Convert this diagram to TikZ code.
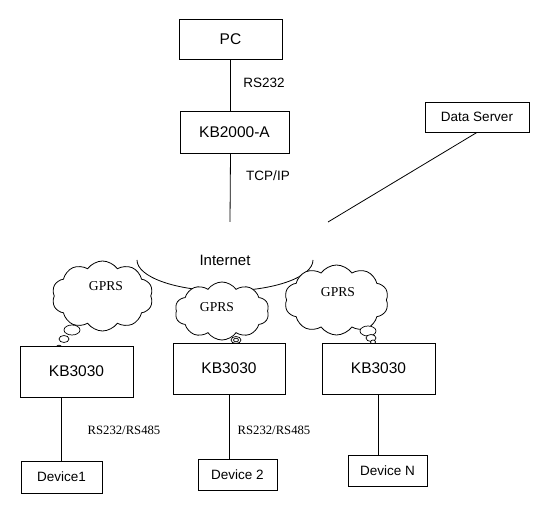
\documentclass[tikz,border=0pt]{standalone}
\usepackage{fontspec}
\setmainfont{Liberation Serif}
\newfontfamily\arialfont{Liberation Sans}
\usepackage{tikz}
\usetikzlibrary{shapes.symbols}
\tikzset{
    plain-box/.style = {draw=black, fill=white, line width=0.8pt, rectangle, inner sep=0pt, font=\arialfont\fontsize{15.5}{18}\selectfont},
    small-box/.style = {plain-box, font=\arialfont\fontsize{13.5}{16}\selectfont},
    link-text/.style = {font=\arialfont\fontsize{13.5}{16}\selectfont},
    bus-text/.style = {font=\fontsize{12.7}{15}\selectfont},
    gprs-cloud/.style = {draw=black, fill=white, line width=0.8pt, cloud, cloud puffs=10, cloud puff arc=110, cloud ignores aspect, inner sep=0pt},
    gprs-text/.style = {font=\fontsize{13.6}{16}\selectfont},
    bubble/.style = {draw=black, fill=white, line width=0.7pt},
}

\begin{document}
\begin{tikzpicture}[x=1pt, y=1pt]
\useasboundingbox (0,0) rectangle (541,506);
% top: PC and gateway
\node [plain-box, minimum width=103, minimum height=40] (pc) at (230.5,467) {PC};
\node [plain-box, minimum width=109, minimum height=42] (kb2000) at (234.5,374) {KB2000-A};
\node [small-box, minimum width=104, minimum height=30] (server) at (477,389) {Data Server};
\draw [line width=0.8pt] (pc.south) -- (pc.south |- kb2000.north);
\node [link-text] (rs232) at (264,423) {RS232};
\coordinate (net-top) at (230,284);
\coordinate (net-right) at (328,284);
\draw [line width=0.8pt] (kb2000.south -| pc.south) -- (net-top);
\node [link-text] (tcpip) at (268,330) {TCP/IP};
\draw [line width=0.8pt] (server.south) -- (net-right);
% internet
\coordinate (net-left) at (137,246);
\draw [line width=0.8pt] (net-left) arc[start angle=180, end angle=360, x radius=88, y radius=31];
\node [font=\arialfont\fontsize{15}{18}\selectfont] (internet) at (225,246) {Internet};
% GPRS clouds
\node [gprs-cloud, minimum width=101, minimum height=70] (cloud1) at (102.5,210) {};
\node [gprs-text] (gprs1) at (106,220) {GPRS};
\node [gprs-cloud, minimum width=94, minimum height=58] (cloud2) at (222,195) {};
\node [gprs-text] (gprs2) at (217,199) {GPRS};
\node [gprs-cloud, minimum width=104, minimum height=70] (cloud3) at (336.5,206) {};
\node [gprs-text] (gprs3) at (338,214) {GPRS};
% thought bubbles
\draw [bubble] (72,176) ellipse [x radius=8, y radius=5];
\draw [bubble] (64,167) ellipse [x radius=5, y radius=3.5];
\draw [bubble] (59,159) ellipse [x radius=2.5, y radius=1.8];
\draw [bubble] (236,166) ellipse [x radius=5, y radius=3.5];
\draw [bubble] (236,166) ellipse [x radius=2.5, y radius=1.8];
\draw [bubble] (368,175) ellipse [x radius=8, y radius=5];
\draw [bubble] (371,168) ellipse [x radius=5, y radius=3.5];
\draw [bubble] (373,164) ellipse [x radius=2.5, y radius=2];
% terminals and devices
\node [plain-box, minimum width=113, minimum height=51] (kb1) at (76.5,134.5) {KB3030};
\node [plain-box, minimum width=112, minimum height=51] (kb2) at (229,137.5) {KB3030};
\node [plain-box, minimum width=113, minimum height=51] (kb3) at (378.5,137.5) {KB3030};
\node [small-box, minimum width=81, minimum height=32] (dev1) at (61.5,29) {Device1};
\node [small-box, minimum width=79, minimum height=31] (dev2) at (237.5,31.5) {Device 2};
\node [small-box, minimum width=79, minimum height=31] (devN) at (387.5,35.5) {Device N};
\draw [line width=0.8pt] (dev1.north |- kb1.south) -- (dev1.north);
\draw [line width=0.8pt] (kb2.south) -- (kb2.south |- dev2.north);
\draw [line width=0.8pt] (kb3.south) -- (kb3.south |- devN.north);
\node [bus-text] (bus1) at (124,76) {RS232/RS485};
\node [bus-text] (bus2) at (274,76) {RS232/RS485};
\end{tikzpicture}
\end{document}
